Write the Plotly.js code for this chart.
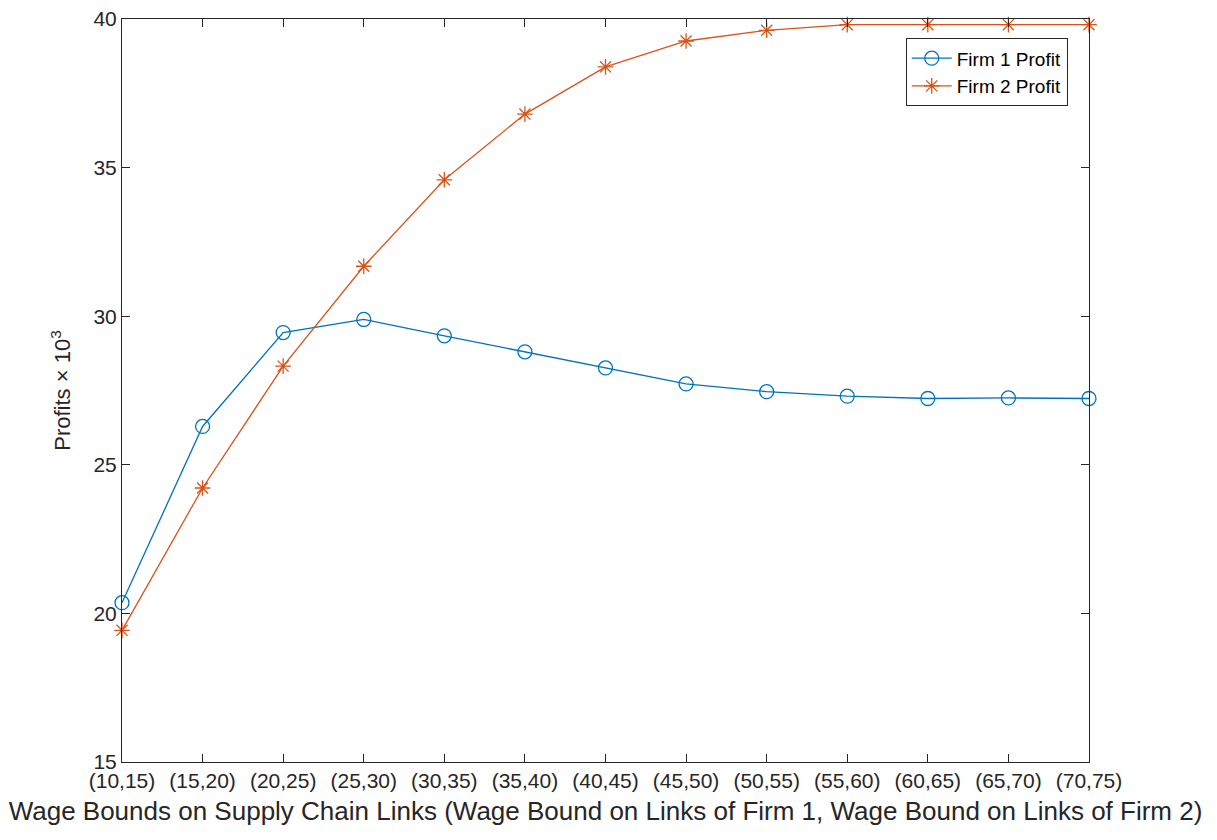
<!DOCTYPE html>
<html>
<head>
<meta charset="utf-8">
<script src="https://cdn.plot.ly/plotly-3.0.1.min.js"></script>
<style>html,body{margin:0;padding:0;background:#fff;}#chart{width:1217px;height:840px;}</style>
</head>
<body>
<div id="chart"></div>
<script>
const categories = ["(10,15)","(15,20)","(20,25)","(25,30)","(30,35)","(35,40)","(40,45)","(45,50)","(50,55)","(55,60)","(60,65)","(65,70)","(70,75)"];
const firm1Profit = [20.36, 26.29, 29.45, 29.89, 29.34, 28.80, 28.26, 27.72, 27.46, 27.31, 27.23, 27.25, 27.23];
const firm2Profit = [19.43, 24.22, 28.32, 31.68, 34.59, 36.80, 38.39, 39.26, 39.62, 39.81, 39.81, 39.81, 39.81];
const yTicks = [15, 20, 25, 30, 35, 40];

const idx = categories.map((c, i) => i);
const fontFam = "Liberation Sans, Arial, sans-serif";
const axisColor = "#262626";

const traces = [
  {
    x: idx, y: firm1Profit, name: "Firm 1 Profit", type: "scatter", mode: "lines+markers",
    line: {color: "#0072BD", width: 1.3},
    marker: {symbol: "circle-open", size: 14, color: "#0072BD", line: {width: 1.3}},
    cliponaxis: false
  },
  {
    x: idx, y: firm2Profit, name: "Firm 2 Profit", type: "scatter", mode: "lines+markers",
    line: {color: "#D95319", width: 1.3},
    marker: {symbol: "asterisk-open", size: 13, color: "#D95319", line: {width: 1.3, color: "#D95319"}},
    cliponaxis: false
  }
];

const layout = {
  width: 1217, height: 840,
  margin: {l: 122, r: 128, t: 19, b: 78},
  paper_bgcolor: "#fff", plot_bgcolor: "#fff",
  font: {family: fontFam, color: axisColor},
  showlegend: true,
  legend: {
    x: 0.978, y: 0.974, xanchor: "right", yanchor: "top",
    bgcolor: "#fff", bordercolor: axisColor, borderwidth: 1,
    font: {size: 19, family: fontFam, color: "#000"},
    tracegroupgap: 0, itemwidth: 40
  },
  xaxis: {
    range: [0, 12], tickmode: "array", tickvals: idx, ticktext: categories,
    ticks: "inside", ticklen: 8, tickcolor: axisColor, tickwidth: 1,
    showline: true, linecolor: axisColor, linewidth: 1, mirror: "ticks",
    showgrid: false, zeroline: false,
    tickfont: {size: 21, family: fontFam, color: axisColor},
    title: {text: "Wage Bounds on Supply Chain Links (Wage Bound on Links of Firm 1, Wage Bound on Links of Firm 2)",
            font: {size: 26, family: fontFam, color: axisColor}, standoff: 10}
  },
  yaxis: {
    range: [15, 40], tickmode: "array", tickvals: yTicks,
    ticks: "inside", ticklen: 8, tickcolor: axisColor, tickwidth: 1,
    showline: true, linecolor: axisColor, linewidth: 1, mirror: "ticks",
    showgrid: false, zeroline: false,
    tickfont: {size: 21, family: fontFam, color: axisColor},
    title: {text: "Profits \u00d7 10<sup>3</sup>", font: {size: 22, family: fontFam, color: axisColor}, standoff: 16}
  }
};

Plotly.newPlot("chart", traces, layout, {displayModeBar: false, staticPlot: true});
</script>
</body>
</html>
